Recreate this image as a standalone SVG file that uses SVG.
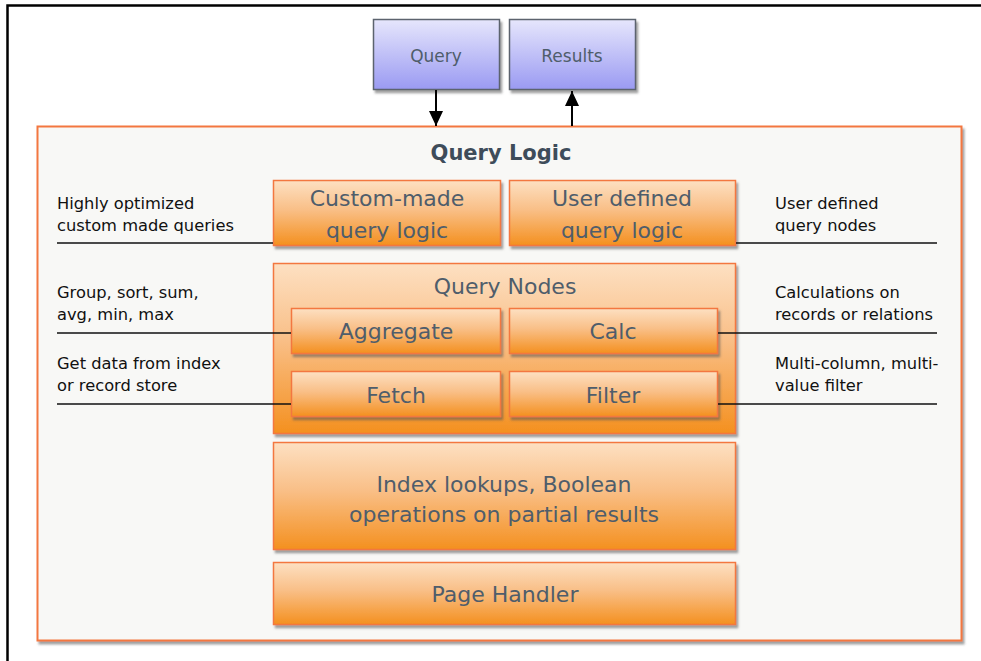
<svg xmlns="http://www.w3.org/2000/svg" width="981" height="661" viewBox="0 0 981 661">
<defs>
<linearGradient id="og" x1="0" y1="0" x2="0" y2="1">
<stop offset="0" stop-color="#fde0c2"/>
<stop offset="0.45" stop-color="#f9bf87"/>
<stop offset="1" stop-color="#f4901f"/>
</linearGradient>
<linearGradient id="bg" x1="0" y1="0" x2="0" y2="1">
<stop offset="0" stop-color="#e6e6fc"/>
<stop offset="1" stop-color="#9a9af2"/>
</linearGradient>
<filter id="sh" x="-5%" y="-5%" width="115%" height="130%">
<feDropShadow dx="2" dy="3" stdDeviation="1.2" flood-color="#555" flood-opacity="0.55"/>
</filter>
<marker id="ah" viewBox="0 0 15 14" refX="15" refY="7" markerWidth="15" markerHeight="14" markerUnits="userSpaceOnUse" orient="auto">
<path d="M0,0 L15,7 L0,14 z" fill="#000"/>
</marker>
</defs>
<style>
.ob{fill:url(#og);stroke:#f3773f;stroke-width:1.5;filter:url(#sh)}
.bb{fill:url(#bg);stroke:#5b636e;stroke-width:1.5;filter:url(#sh)}
.lbl{font-family:"DejaVu Sans",Verdana,sans-serif;font-size:22px;fill:#4f5d6b;text-anchor:middle}
.sm{font-family:"DejaVu Sans",Verdana,sans-serif;font-size:17px;fill:#4f5d6b;text-anchor:middle}
.ann{font-family:"DejaVu Sans",Verdana,sans-serif;font-size:16.3px;fill:#111}
.ln{stroke:#111;stroke-width:1.3;fill:none}
.ar{stroke:#000;stroke-width:2;fill:none}
</style>
<rect x="0" y="0" width="981" height="661" fill="#fff"/>
<rect x="7.5" y="5.5" width="990" height="670" fill="none" stroke="#000" stroke-width="2.5"/>
<g id="query-logic">
<rect x="37.5" y="126.5" width="924" height="514" fill="#f8f8f6" stroke="#f3773f" stroke-width="2" filter="url(#sh)"/>
<text x="501" y="160" font-family="DejaVu Sans,Verdana,sans-serif" font-size="21" font-weight="bold" fill="#3e4c5a" text-anchor="middle">Query Logic</text>
</g>
<g id="query">
<rect class="bb" x="373.5" y="19.5" width="126" height="70"/>
<text class="sm" x="436" y="62">Query</text>
</g>
<g id="results">
<rect class="bb" x="509.5" y="19.5" width="126" height="70"/>
<text class="sm" x="572" y="62">Results</text>
</g>
<g id="custom-made">
<rect class="ob" x="273.5" y="180.5" width="227" height="65"/>
<text class="lbl" x="387" y="206">Custom-made</text>
<text class="lbl" x="387" y="238">query logic</text>
</g>
<g id="user-defined">
<rect class="ob" x="509.5" y="180.5" width="226" height="65"/>
<text class="lbl" x="622" y="206">User defined</text>
<text class="lbl" x="622" y="238">query logic</text>
</g>
<g id="query-nodes">
<rect class="ob" x="273.5" y="263.5" width="462" height="170"/>
<text class="lbl" x="505" y="294">Query Nodes</text>
</g>
<g id="aggregate">
<rect class="ob" x="291.5" y="308.5" width="209" height="45"/>
<text class="lbl" x="396" y="339">Aggregate</text>
</g>
<g id="calc">
<rect class="ob" x="509.5" y="308.5" width="208" height="45"/>
<text class="lbl" x="613" y="339">Calc</text>
</g>
<g id="fetch">
<rect class="ob" x="291.5" y="371.5" width="209" height="45"/>
<text class="lbl" x="396" y="403">Fetch</text>
</g>
<g id="filter">
<rect class="ob" x="509.5" y="371.5" width="208" height="45"/>
<text class="lbl" x="613" y="403">Filter</text>
</g>
<g id="index">
<rect class="ob" x="273.5" y="442.5" width="462" height="107"/>
<text class="lbl" x="504" y="492">Index lookups, Boolean</text>
<text class="lbl" x="504" y="522">operations on partial results</text>
</g>
<g id="page-handler">
<rect class="ob" x="273.5" y="562.5" width="462" height="62"/>
<text class="lbl" x="505" y="602">Page Handler</text>
</g>
<g id="annotations">
<text class="ann" x="57" y="209">Highly optimized</text>
<text class="ann" x="57" y="231">custom made queries</text>
<text class="ann" x="57" y="298">Group, sort, sum,</text>
<text class="ann" x="57" y="320">avg, min, max</text>
<text class="ann" x="57" y="369">Get data from index</text>
<text class="ann" x="57" y="391">or record store</text>
<text class="ann" x="775" y="209">User defined</text>
<text class="ann" x="775" y="231">query nodes</text>
<text class="ann" x="775" y="298">Calculations on</text>
<text class="ann" x="775" y="320">records or relations</text>
<text class="ann" x="775" y="369">Multi-column, multi-</text>
<text class="ann" x="775" y="391">value filter</text>
</g>
<g id="connectors">
<line class="ar" x1="436" y1="90" x2="436" y2="126" marker-end="url(#ah)"/>
<line class="ar" x1="572" y1="126" x2="572" y2="91" marker-end="url(#ah)"/>
<line class="ln" x1="57" y1="243" x2="273" y2="243"/>
<line class="ln" x1="57" y1="333" x2="291" y2="333"/>
<line class="ln" x1="57" y1="404" x2="291" y2="404"/>
<line class="ln" x1="736" y1="243" x2="937" y2="243"/>
<line class="ln" x1="718" y1="333" x2="937" y2="333"/>
<line class="ln" x1="718" y1="404" x2="937" y2="404"/>
</g>
</svg>
